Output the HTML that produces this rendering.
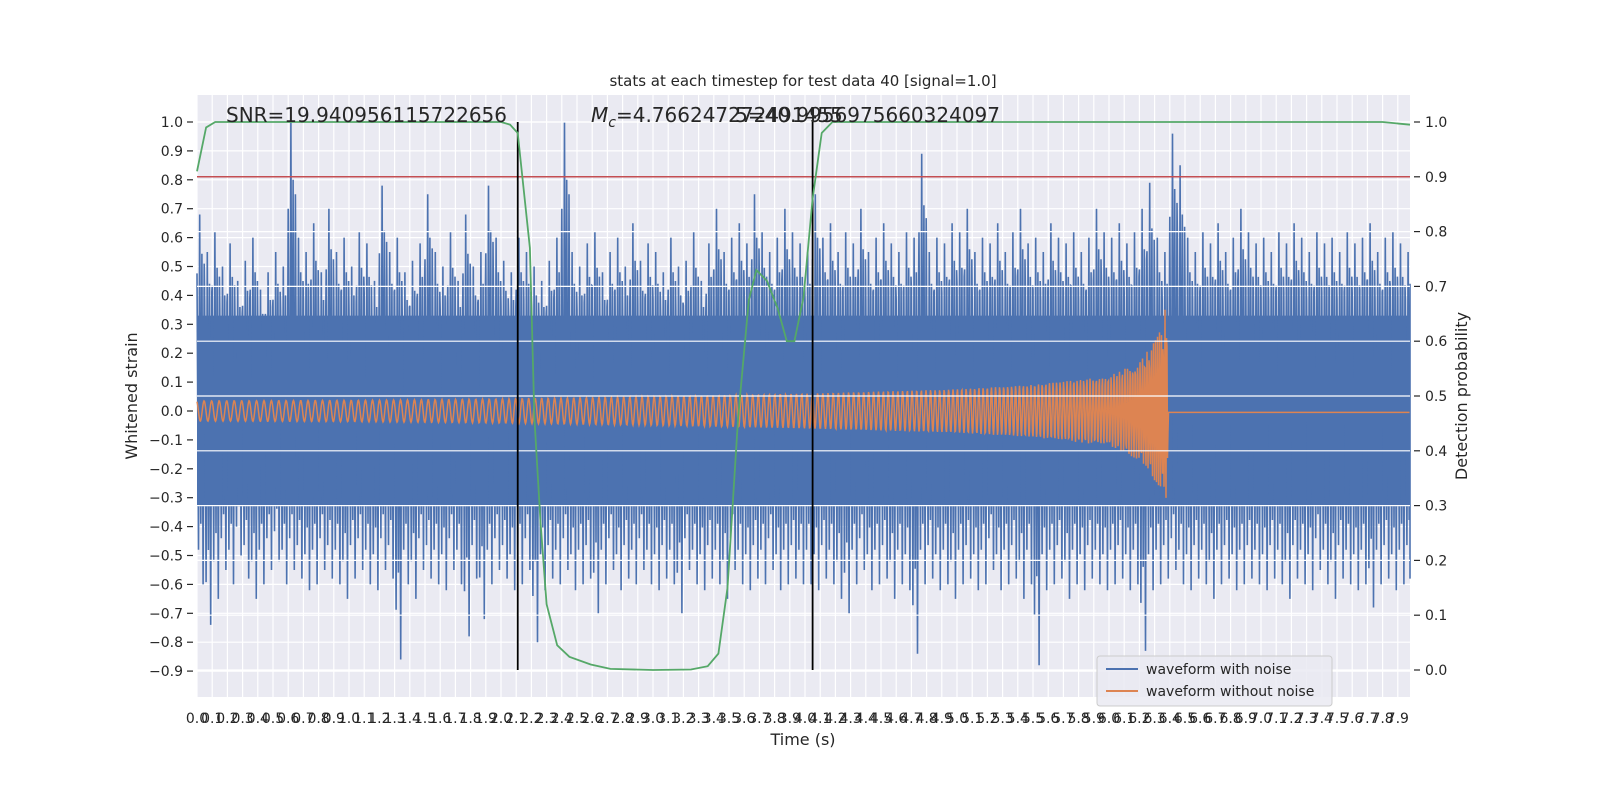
<!DOCTYPE html>
<html><head><meta charset="utf-8"><style>
body{margin:0;background:#fff;}
svg text{font-family:"DejaVu Sans","Liberation Sans",sans-serif;fill:#262626;}
</style></head><body>
<svg id="chart" width="1600" height="800" xmlns="http://www.w3.org/2000/svg">
<rect x="0" y="0" width="1600" height="800" fill="#fff"/>
<rect x="197" y="95" width="1213" height="602" fill="#eaeaf2"/>
<g id="grid"></g><g id="blue"></g><g id="orange"></g><g id="rgrid"></g><g id="marks"></g><g id="ticks"></g>
<text x="803" y="86" font-size="15" text-anchor="middle">stats at each timestep for test data 40 [signal=1.0]</text>
<text x="226" y="122" font-size="20">SNR=19.940956115722656</text>
<text x="591" y="122" font-size="20"><tspan font-style="italic">M</tspan><tspan font-style="italic" font-size="14" dy="5">c</tspan><tspan dy="-5">=4.766247272491455</tspan></text>
<text x="1000" y="122" font-size="20" text-anchor="end">5=40.9956975660324097</text>
<text transform="translate(137,396) rotate(-90)" font-size="16" text-anchor="middle">Whitened strain</text>
<text transform="translate(1467,396) rotate(-90)" font-size="16" text-anchor="middle">Detection probability</text>
<text x="803" y="745" font-size="16" text-anchor="middle">Time (s)</text>
<g>
<rect x="1097" y="656" width="235" height="50" rx="3" fill="#eaeaf2" fill-opacity="0.85" stroke="#cccccc"/>
<line x1="1106" y1="669" x2="1138" y2="669" stroke="#4c72b0" stroke-width="2"/>
<text x="1146" y="674" font-size="14">waveform with noise</text>
<line x1="1106" y1="691" x2="1138" y2="691" stroke="#dd8452" stroke-width="2"/>
<text x="1146" y="696" font-size="14">waveform without noise</text>
</g>
</svg>
<script>
const upperPeaks=[.68,.55,.62,.5,.58,.45,.52,.6,.42,.48,.55,.5,1.0,.6,.55,.65,.48,.7,.55,.6,
.5,.62,.58,.45,.78,.55,.6,.48,.52,.58,.75,.55,.5,.62,.45,.68,.5,.55,.78,.6,
.52,.48,.6,.55,.5,.45,.52,.6,1.0,.55,.5,.58,.62,.48,.55,.6,.5,.65,.52,.58,
.55,.48,.6,.5,.52,.62,.45,.58,.7,.55,.6,.65,.58,.75,.62,.55,.6,.7,.62,.58,
.55,.75,.6,.65,.55,.62,.58,.7,.55,.6,.65,.58,.55,.62,.6,.89,.55,.6,.58,.65,
.62,.7,.55,.6,.58,.65,.55,.62,.7,.58,.6,.55,.65,.6,.58,.62,.55,.6,.7,.62,
.6,.65,.58,.62,.7,.79,.6,.55,.96,.85,.6,.55,.62,.58,.65,.55,.6,.7,.62,.58,
.6,.55,.62,.58,.65,.6,.55,.62,.58,.6,.55,.62,.58,.6,.65,.55,.6,.62,.58,.55];
const lowerPeaks=[-.6,-.74,-.65,-.55,-.6,-.5,-.58,-.65,-.6,-.55,-.52,-.6,-.55,-.58,-.62,-.6,-.55,-.58,-.6,-.65,
-.58,-.55,-.6,-.62,-.55,-.58,-.86,-.6,-.65,-.55,-.58,-.6,-.62,-.55,-.6,-.78,-.58,-.72,-.6,-.55,
-.58,-.62,-.6,-.55,-.8,-.62,-.58,-.6,-.55,-.62,-.6,-.58,-.7,-.6,-.55,-.62,-.58,-.6,-.55,-.6,
-.62,-.58,-.6,-.7,-.55,-.6,-.62,-.58,-.6,-.65,-.55,-.6,-.62,-.58,-.6,-.55,-.62,-.6,-.58,-.6,
-.6,-.62,-.58,-.6,-.65,-.7,-.6,-.55,-.62,-.6,-.58,-.65,-.6,-.62,-.84,-.6,-.58,-.62,-.6,-.65,
-.6,-.58,-.62,-.6,-.55,-.62,-.6,-.58,-.65,-.6,-.88,-.62,-.6,-.58,-.65,-.6,-.62,-.58,-.6,-.62,
-.6,-.58,-.62,-.6,-.83,-.62,-.6,-.58,-.55,-.6,-.62,-.58,-.6,-.65,-.6,-.58,-.62,-.6,-.58,-.6,
-.62,-.58,-.6,-.65,-.58,-.6,-.62,-.55,-.6,-.65,-.58,-.6,-.62,-.6,-.68,-.6,-.58,-.62,-.6,-.58];
const envTimes=[0,1,2,3,4,5,5.5,6,6.2,6.3,6.36,6.38,6.39,7.98];
const envUpper=[.035,.037,.042,.05,.06,.075,.09,.12,.17,.24,.3,.42,0,0];
const envLower=[-.035,-.037,-.042,-.05,-.06,-.075,-.09,-.12,-.17,-.24,-.28,-.35,-.005,-.005];
const probTimes=[0,.06,.12,.5,1,1.5,2.0,2.06,2.11,2.19,2.22,2.26,2.30,2.37,2.45,2.59,2.72,3.0,3.25,3.36,3.43,3.49,3.56,3.63,3.68,3.75,3.82,3.88,3.93,3.99,4.05,4.11,4.18,5,6,7,7.8,7.98];
const probValues=[.91,.99,1,1,1,1,1,.995,.98,.77,.46,.27,.12,.045,.024,.01,.002,0,.001,.007,.03,.15,.46,.675,.73,.71,.66,.60,.60,.68,.86,.98,1,1,1,1,1,.995];
const xTicks=[];for(let i=0;i<80;i++)xTicks.push((i/10).toFixed(1));
const yTicks=[1.0,0.9,0.8,0.7,0.6,0.5,0.4,0.3,0.2,0.1,0.0,-0.1,-0.2,-0.3,-0.4,-0.5,-0.6,-0.7,-0.8,-0.9];
const y2Ticks=[0.0,0.1,0.2,0.3,0.4,0.5,0.6,0.7,0.8,0.9,1.0];
const threshold=0.9;
const markerTimes=[2.11,4.05];

const X=t=>197+t*152;
const Y=v=>411-v*289;
const Y2=p=>670-p*548;
const NS="http://www.w3.org/2000/svg";
function mk(tag,parent,attrs){const e=document.createElementNS(NS,tag);for(const k in attrs)e.setAttribute(k,attrs[k]);document.getElementById(parent).appendChild(e);return e;}

xTicks.forEach(s=>{const x=X(+s);const l=mk('line','grid',{x1:x,x2:x,y1:95,y2:697,stroke:'#fff','stroke-width':1.2});


const t=mk('text','ticks',{x:x,y:723,'font-size':14,'text-anchor':'middle'});t.textContent=s;

});
yTicks.forEach(v=>{const y=Y(v);const l=mk('line','grid',{x1:197,x2:1410,y1:y,y2:y,stroke:'#fff','stroke-width':1.2});


mk('line','ticks',{x1:187,x2:193,y1:y,y2:y,stroke:'#262626','stroke-width':1.2});
const t=mk('text','ticks',{x:183,y:y+5,'font-size':14,'text-anchor':'end'});t.textContent=(v<0?'\u2212'+Math.abs(v).toFixed(1):v.toFixed(1));

});
y2Ticks.forEach(p=>{const y=Y2(p);const l=mk('line','rgrid',{x1:197,x2:1410,y1:y,y2:y,stroke:'#fff','stroke-width':1.2});


mk('line','ticks',{x1:1414,x2:1420,y1:y,y2:y,stroke:'#262626','stroke-width':1.2});
const t=mk('text','ticks',{x:1425,y:y+5,'font-size':14});t.textContent=p.toFixed(1);

});

const binW=8/upperPeaks.length;
let d='';
const band=mk('rect','blue',{x:X(0),y:Y(0.33),width:X(7.98)-X(0),height:Y(-0.33)-Y(0.33),fill:'#4c72b0'});


upperPeaks.forEach((u,i)=>{const lo=lowerPeaks[i];const t0=i*binW;
const pts=[[t0,u*0.7],[t0+binW*0.2,lo*0.8],[t0+binW*0.35,u],[t0+binW*0.5,lo*0.65],[t0+binW*0.65,u*0.8],[t0+binW*0.8,lo],[t0+binW*0.95,u*0.75]];
pts.forEach((p,j)=>{d+=(i===0&&j===0?'M':'L')+X(Math.min(p[0],7.98)).toFixed(1)+','+Y(p[1]).toFixed(1);});});
const bl=mk('path','blue',{d:d,fill:'none',stroke:'#4c72b0','stroke-width':1.6});



function interp(ts,vs,t){for(let i=0;i<ts.length-1;i++){if(t<=ts[i+1]){const f=(t-ts[i])/(ts[i+1]-ts[i]);return vs[i]+f*(vs[i+1]-vs[i]);}}return vs[vs.length-1];}
let od='';let ph=0;const tc=6.385;
for(let px=0;px<=X(7.98)-X(0);px+=0.5){const t=px/152;
let f=t<tc?Math.min(20*Math.pow(Math.max(1-t/6.5,0.02),-0.375),400):0;ph+=2*Math.PI*f*(0.5/152);
const c=Math.cos(ph);const up=interp(envTimes,envUpper,t),lo=interp(envTimes,envLower,t);
const v=t<tc?(c>0?c*up:-c*lo):lo;
od+=(px===0?'M':'L')+X(t).toFixed(1)+','+Y(v).toFixed(1);}
const or=mk('path','orange',{d:od,fill:'none',stroke:'#dd8452','stroke-width':1.5});



const th=mk('line','marks',{x1:197,x2:1410,y1:Y2(threshold),y2:Y2(threshold),stroke:'#c44e52','stroke-width':1.5});


markerTimes.forEach(t=>{const l=mk('line','marks',{x1:X(t),x2:X(t),y1:Y2(1),y2:Y2(0),stroke:'#000','stroke-width':1.8});

});
const gp=probTimes.map((t,i)=>X(t).toFixed(1)+','+Y2(probValues[i]).toFixed(1)).join(' ');
const g=mk('polyline','marks',{points:gp,fill:'none',stroke:'#55a868','stroke-width':1.8});


</script>
</body></html>
